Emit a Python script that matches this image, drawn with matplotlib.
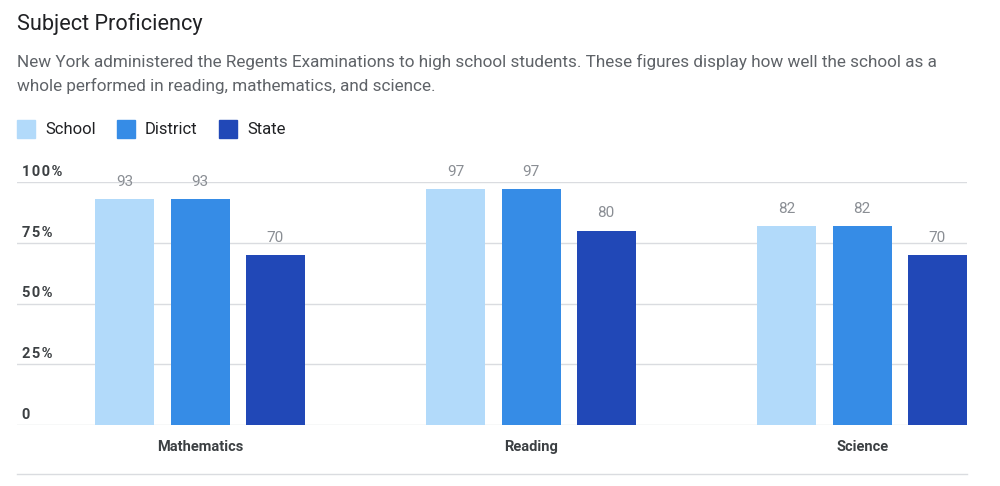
import numpy as np
import matplotlib
matplotlib.use("Agg")
from matplotlib import pyplot as plt
from matplotlib.lines import Line2D

plt.rcParams['font.family'] = ['Roboto', 'DejaVu Sans']

subjects = ["Mathematics", "Reading", "Science"]
series = ["School", "District", "State"]
school = [93, 97, 82]
district = [93, 97, 82]
state = [70, 80, 70]
colors = ["#b2dafa", "#368ce6", "#2148b7"]
yticks = [0, 25, 50, 75, 100]
ytick_labels = ["0", "25%", "50%", "75%", "100%"]

fig = plt.figure(figsize=(10, 4.86), dpi=100)
ax = fig.add_axes([0.017, 0.1255, 0.95, 0.5])

x = np.arange(len(subjects))
width = 0.178
step = 0.227
for i, (vals, c) in enumerate(zip([school, district, state], colors)):
    pos = x + (i - 1) * step
    ax.bar(pos, vals, width=width, color=c, zorder=3)
    for p, v in zip(pos, vals):
        ax.text(p, v + 4.2, str(v), ha='center', va='bottom', fontsize=11,
                color='#8a8e94', zorder=4)

ax.set_xlim(-0.553, 2.317)
ax.set_ylim(0, 100)
for t in yticks:
    ax.axhline(t, color='#dadce0', lw=1, zorder=1)
for t, lab in zip(yticks, ytick_labels):
    # spaced-out tick text like the original
    ax.text(0.005, t + 1.3, '\u200a'.join(lab), transform=ax.get_yaxis_transform(),
            ha='left', va='bottom', fontsize=10.5, fontweight='bold',
            color='#3c4043')
for xi, s in zip(x, subjects):
    ax.text(xi, -6, s, ha='center', va='top', fontsize=10.5, fontweight='bold',
            color='#3c4043')

for sp in ax.spines.values():
    sp.set_visible(False)
ax.set_xticks([])
ax.set_yticks([])

# line under the category labels
fig.add_artist(Line2D([0.017, 0.967], [1 - 474 / 486, 1 - 474 / 486],
                      color='#dadce0', lw=1))

fig.text(0.017, 1 - 24 / 486, "Subject Proficiency", fontsize=15.6,
         color='#202124', va='center', ha='left')
fig.text(0.017, 1 - 62 / 486,
         "New York administered the Regents Examinations to high school students. "
         "These figures display how well the school as a",
         fontsize=12.35, color='#5f6368', va='center', ha='left')
fig.text(0.017, 1 - 86 / 486,
         "whole performed in reading, mathematics, and science.",
         fontsize=12.35, color='#5f6368', va='center', ha='left')

# legend
leg_x = [17, 117, 219]
for lx, name, c in zip(leg_x, series, colors):
    fig.patches.append(plt.Rectangle((lx / 1000, 1 - 138 / 486), 18 / 1000, 18 / 486,
                                     transform=fig.transFigure, color=c))
    fig.text((lx + 28) / 1000, 1 - 129 / 486, name, fontsize=12,
             color='#202124', va='center', ha='left')

fig.savefig("out.png", dpi=100)
